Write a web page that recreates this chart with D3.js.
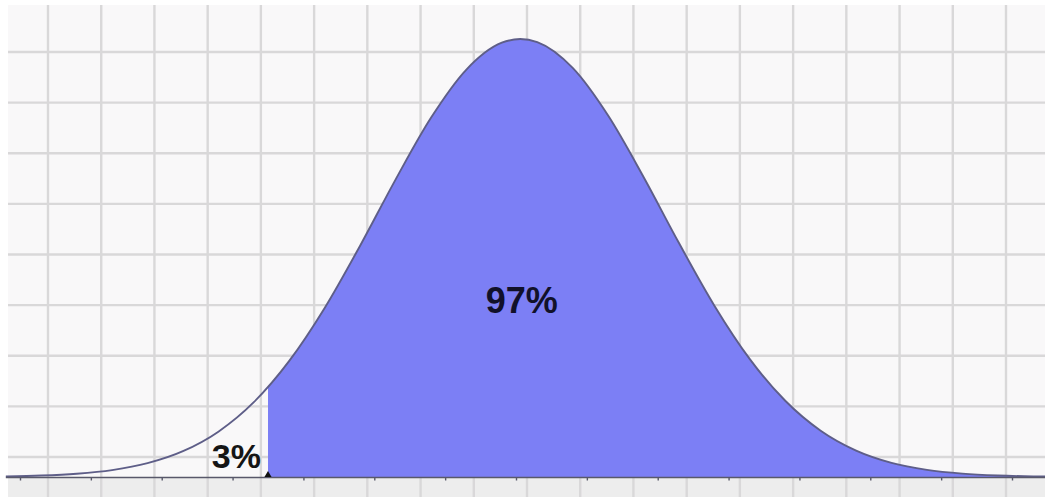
<!DOCTYPE html>
<html>
<head>
<meta charset="utf-8">
<script src="https://cdn.jsdelivr.net/npm/d3@7"></script>
<style>
  html, body { margin: 0; padding: 0; background: #ffffff; }
  svg { display: block; }
</style>
</head>
<body>
<svg id="chart" width="1045" height="497"></svg>
<script>
// ---- data (x in standard-deviation units, height relative to peak) ----
const curveX = [-3.6, -3.35, -3.1, -2.85, -2.6, -2.35, -2.1, -1.85, -1.6, -1.35, -1.1, -0.85, -0.6, -0.35, -0.1, 0.03,
                0.15, 0.4, 0.65, 0.9, 1.15, 1.4, 1.65, 1.9, 2.15, 2.4, 2.65, 2.9, 3.15, 3.4, 3.65, 3.75];
const curveY = [0.0014, 0.0033, 0.0075, 0.0158, 0.0315, 0.0589, 0.1035, 0.1708, 0.2650, 0.3859, 0.5281, 0.6790, 0.8201, 0.9303, 0.9916, 1.0,
                0.9928, 0.9339, 0.8251, 0.6849, 0.5341, 0.3912, 0.2692, 0.1741, 0.1057, 0.0603, 0.0323, 0.0163, 0.0077, 0.0034, 0.0014, 0.0010];
const cutX = -1.75;                       // left boundary of the shaded region
const tickValues = [-3.5, -3, -2.5, -2, -1.5, -1, -0.5, 0, 0.5, 1, 1.5, 2, 2.5, 3, 3.5];
const labels = ["3%", "97%"];

const W = 1045, H = 497;
const svg = d3.select("#chart");

const defs = svg.append("defs");
defs.append("filter").attr("id", "soft").attr("x", "-5%").attr("y", "-5%").attr("width", "110%").attr("height", "110%")
  .append("feGaussianBlur").attr("stdDeviation", 0.7);

const x = d3.scaleLinear().domain([-3.5, 3.5]).range([20, 1012]);
const y = d3.scaleLinear().domain([0, 1]).range([477, 39]);

// background
svg.append("rect").attr("x", 0).attr("y", 0).attr("width", W).attr("height", H).attr("fill", "#ffffff");
svg.append("rect").attr("x", 8).attr("y", 5).attr("width", W - 8).attr("height", 472).attr("fill", "#f9f8f9");
svg.append("rect").attr("x", 8).attr("y", 477).attr("width", W - 8).attr("height", H - 477).attr("fill", "#ededed");

// grid (graph-paper squares)
const gx = d3.scaleLinear().domain([0, 18]).range([48, 1006]);
const gy = d3.scaleLinear().domain([0, 8]).range([52, 457]);
const grid = svg.append("g").attr("stroke", "#d9d8d9").attr("stroke-width", 2.4).attr("filter", "url(#soft)");
grid.selectAll("line.v").data(d3.range(0, 19)).join("line")
  .attr("class", "v").attr("x1", d => gx(d)).attr("x2", d => gx(d)).attr("y1", 5).attr("y2", H);
grid.selectAll("line.h").data(d3.range(0, 9)).join("line")
  .attr("class", "h").attr("y1", d => gy(d)).attr("y2", d => gy(d)).attr("x1", 8).attr("x2", W);

const pts = curveX.map((v, i) => [v, curveY[i]]);

// shaded area
defs.append("clipPath").attr("id", "clipR")
  .append("rect").attr("x", x(cutX)).attr("y", 0).attr("width", W - x(cutX)).attr("height", 477);
const area = d3.area().x(d => x(d[0])).y0(y(0)).y1(d => y(d[1])).curve(d3.curveMonotoneX);
svg.append("path").datum(pts).attr("d", area).attr("fill", "#7c7ff5").attr("clip-path", "url(#clipR)");

// curve outline
const line = d3.line().x(d => x(d[0])).y(d => y(d[1])).curve(d3.curveMonotoneX);
svg.append("path").datum(pts).attr("d", line).attr("fill", "none")
  .attr("stroke", "#5e5e88").attr("stroke-width", 1.9);

// baseline + ticks
svg.append("line").attr("x1", x(curveX[0])).attr("x2", W).attr("y1", 477.5).attr("y2", 477.5)
  .attr("stroke", "#58586a").attr("stroke-width", 1.6);
const axis = d3.axisBottom(x).tickValues(tickValues).tickSize(3).tickFormat("");
const ag = svg.append("g").attr("transform", "translate(0,477.5)").call(axis);
ag.select(".domain").remove();
ag.selectAll(".tick line").attr("stroke", "#58586a").attr("stroke-width", 1.4);

// cut marker
svg.append("path").attr("d", d3.symbol(d3.symbolTriangle, 22)())
  .attr("transform", `translate(${x(cutX)},475)`).attr("fill", "#111");

// labels
svg.append("text").attr("x", x(cutX) - 7).attr("y", 468).attr("text-anchor", "end")
  .attr("font-family", "Liberation Sans, Arial, sans-serif").attr("font-weight", "bold")
  .attr("font-size", 34).attr("fill", "#151515").text(labels[0]);
svg.append("text").attr("x", x(0.04)).attr("y", 313).attr("text-anchor", "middle")
  .attr("font-family", "Liberation Sans, Arial, sans-serif").attr("font-weight", "bold")
  .attr("font-size", 36).attr("fill", "#11112a").text(labels[1]);
</script>
</body>
</html>
